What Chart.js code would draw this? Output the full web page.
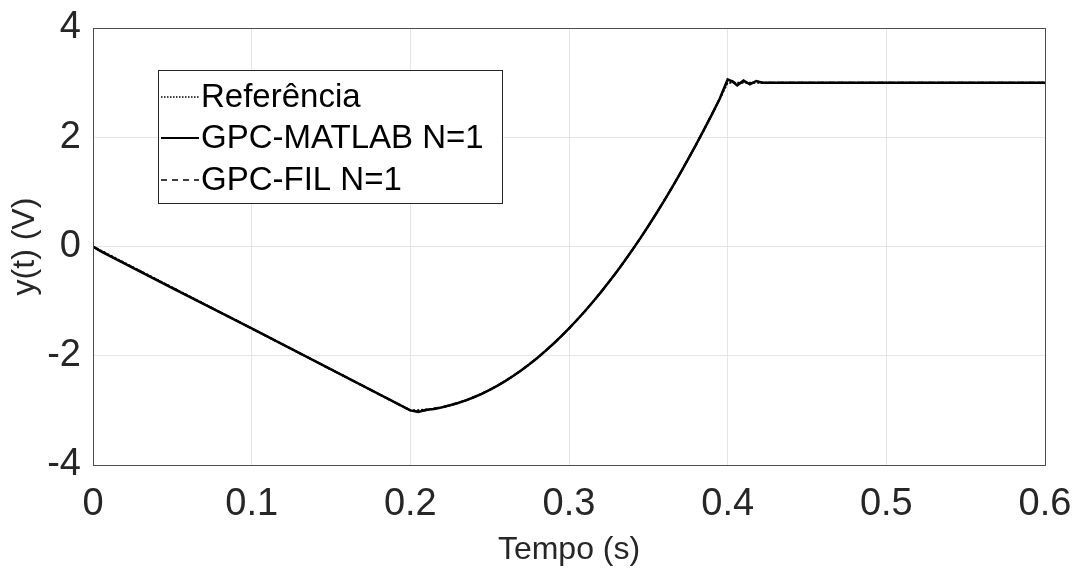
<!DOCTYPE html>
<html>
<head>
<meta charset="utf-8">
<script src="https://cdn.jsdelivr.net/npm/chart.js@4/dist/chart.umd.min.js"></script>
<style>
    html, body { margin: 0; padding: 0; background: #fff; }
    #wrap { width: 1082px; height: 569px; position: relative; }
</style>
</head>
<body>
<div id="wrap"><canvas id="chart"></canvas></div>
<script>
// Time samples (s)
const time = [
    0, 0.005, 0.05, 0.1, 0.15,
    0.2, 0.205, 0.21, 0.215, 0.22, 0.225, 0.23, 0.235, 0.24, 0.245,
    0.25, 0.255, 0.26, 0.265, 0.27, 0.275, 0.28, 0.285, 0.29, 0.295,
    0.3, 0.305, 0.31, 0.315, 0.32, 0.325, 0.33, 0.335, 0.34, 0.345,
    0.35, 0.355, 0.36, 0.365, 0.37, 0.375, 0.38, 0.385, 0.39, 0.395,
    0.4, 0.403, 0.406, 0.41, 0.414, 0.418, 0.422, 0.45, 0.5, 0.6
];

// Referência
const referencia = [
    0, -0.075, -0.75, -1.5, -2.25,
    -3.0, -2.996, -2.985, -2.966, -2.94, -2.906, -2.865, -2.816, -2.76, -2.696,
    -2.625, -2.546, -2.46, -2.366, -2.265, -2.156, -2.04, -1.916, -1.785, -1.646,
    -1.5, -1.346, -1.185, -1.016, -0.84, -0.656, -0.465, -0.266, -0.06, 0.154,
    0.375, 0.604, 0.84, 1.084, 1.335, 1.594, 1.86, 2.134, 2.415, 2.704,
    3.0, 3.0, 3.0, 3.0, 3.0, 3.0, 3.0, 3.0, 3.0, 3.0
];

// GPC-MATLAB N=1
const gpcMatlab = [
    0, -0.09, -0.76, -1.5, -2.25,
    -3.0, -3.03, -2.99, -2.975, -2.945, -2.906, -2.865, -2.816, -2.76, -2.696,
    -2.625, -2.546, -2.46, -2.366, -2.265, -2.156, -2.04, -1.916, -1.785, -1.646,
    -1.5, -1.346, -1.185, -1.016, -0.84, -0.656, -0.465, -0.266, -0.06, 0.154,
    0.375, 0.604, 0.84, 1.084, 1.335, 1.594, 1.86, 2.134, 2.415, 2.704,
    3.06, 3.02, 2.95, 3.04, 2.97, 3.03, 3.0, 3.0, 3.0, 3.0
];

// GPC-FIL N=1
const gpcFil = [
    0, -0.085, -0.755, -1.5, -2.25,
    -3.0, -3.02, -3.0, -2.97, -2.94, -2.906, -2.865, -2.816, -2.76, -2.696,
    -2.625, -2.546, -2.46, -2.366, -2.265, -2.156, -2.04, -1.916, -1.785, -1.646,
    -1.5, -1.346, -1.185, -1.016, -0.84, -0.656, -0.465, -0.266, -0.06, 0.154,
    0.375, 0.604, 0.84, 1.084, 1.335, 1.594, 1.86, 2.134, 2.415, 2.704,
    3.04, 3.03, 2.96, 3.02, 2.98, 3.02, 3.0, 3.0, 3.0, 3.0
];

const xTicks = [0, 0.1, 0.2, 0.3, 0.4, 0.5, 0.6];
const yTicks = [-4, -2, 0, 2, 4];

const FONT = '"Liberation Sans", Arial, sans-serif';
const TEXT = '#262626';

const toPoints = ys => ys.map((y, i) => ({ x: time[i], y: y }));

// box around plot + legend inside it
const frameAndLegend = {
    id: 'frameAndLegend',
    afterDraw(chart) {
        const ctx = chart.ctx;
        const a = chart.chartArea;
        ctx.save();
        ctx.strokeStyle = '#4d4d4d';
        ctx.lineWidth = 1;
        ctx.strokeRect(a.left + 0.5, a.top + 0.5, a.right - a.left, a.bottom - a.top);

        // legend box
        const bx = 158, by = 70, bw = 344, bh = 133;
        ctx.fillStyle = '#fff';
        ctx.fillRect(bx, by, bw, bh);
        ctx.strokeStyle = '#262626';
        ctx.strokeRect(bx + 0.5, by + 0.5, bw, bh);

        ctx.font = '33px ' + FONT;
        ctx.textBaseline = 'middle';
        ctx.fillStyle = '#000';
        const rows = [97, 138, 180];
        chart.data.datasets.forEach((ds, i) => {
            const y = rows[i];
            ctx.beginPath();
            ctx.setLineDash(ds.legendDash || []);
            ctx.lineWidth = ds.legendWidth || 2;
            ctx.strokeStyle = '#000';
            ctx.moveTo(161, y);
            ctx.lineTo(199, y);
            ctx.stroke();
            ctx.setLineDash([]);
            ctx.fillText(ds.label, 201, y + 1);
        });
        ctx.restore();
    }
};

new Chart(document.getElementById('chart'), {
    type: 'line',
    data: {
        datasets: [
            {
                label: 'Referência',
                data: toPoints(referencia),
                borderColor: '#000',
                borderWidth: 2,
                borderDash: [2, 2],
                legendDash: [1.5, 1.5],
                legendWidth: 1.5,
                pointRadius: 0
            },
            {
                label: 'GPC-MATLAB N=1',
                data: toPoints(gpcMatlab),
                borderColor: '#000',
                borderWidth: 2.5,
                legendWidth: 2,
                pointRadius: 0
            },
            {
                label: 'GPC-FIL N=1',
                data: toPoints(gpcFil),
                borderColor: '#000',
                borderWidth: 2,
                borderDash: [6, 4],
                legendDash: [6, 5],
                legendWidth: 1.5,
                pointRadius: 0
            }
        ]
    },
    options: {
        responsive: true,
        maintainAspectRatio: false,
        animation: false,
        layout: { padding: { top: 28, right: 37, left: 0, bottom: 0 } },
        plugins: {
            legend: { display: false },
            tooltip: { enabled: false }
        },
        scales: {
            x: {
                type: 'linear',
                min: 0,
                max: 0.6,
                afterBuildTicks: s => { s.ticks = xTicks.map(v => ({ value: v })); },
                afterFit: s => {
                    s.height = 104;
                    s.paddingLeft = 0;
                    s.paddingRight = 0;
                },
                grid: { color: '#e5e5e5', drawTicks: false },
                border: { display: false },
                ticks: {
                    color: TEXT,
                    padding: 17,
                    maxRotation: 0,
                    font: { family: FONT, size: 38 },
                    callback: v => String(v)
                },
                title: {
                    display: true,
                    text: 'Tempo (s)',
                    color: TEXT,
                    padding: { top: 2, bottom: 0 },
                    font: { family: FONT, size: 32 }
                }
            },
            y: {
                type: 'linear',
                min: -4,
                max: 4,
                afterBuildTicks: s => { s.ticks = yTicks.map(v => ({ value: v })); },
                afterFit: s => {
                    s.width = 93;
                    s.paddingTop = 0;
                    s.paddingBottom = 0;
                },
                grid: { color: '#e5e5e5', drawTicks: false },
                border: { display: false },
                ticks: {
                    color: TEXT,
                    padding: 12,
                    font: { family: FONT, size: 38 },
                    callback: v => String(v)
                },
                title: {
                    display: true,
                    text: 'y(t) (V)',
                    color: TEXT,
                    padding: { top: 6, bottom: 0 },
                    font: { family: FONT, size: 32 }
                }
            }
        }
    },
    plugins: [frameAndLegend]
});
</script>
</body>
</html>
